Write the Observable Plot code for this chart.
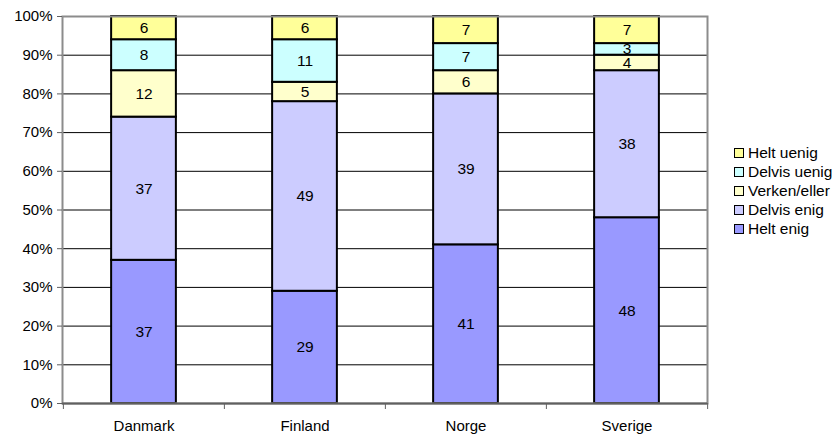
<!DOCTYPE html>
<html>
<head>
<meta charset="utf-8">
<script src="https://cdn.jsdelivr.net/npm/d3@7"></script>
<script src="https://cdn.jsdelivr.net/npm/@observablehq/plot@0.6"></script>
<style>
  body { margin: 0; background: #fff; }
  #wrap { position: relative; width: 839px; height: 434px; font-family: "Liberation Sans", Arial, sans-serif; }
  #legend { position: absolute; left: 734px; top: 143px; font-size: 15.5px; color: #000; }
  .item { display: flex; align-items: center; height: 19px; white-space: nowrap; }
  .sw { width: 8px; height: 8px; border: 1.5px solid #000; margin-right: 4px; }
</style>
</head>
<body>
<div id="wrap"></div>
<script>
// Survey answers per country, in percent
const countries = ["Danmark", "Finland", "Norge", "Sverige"];
const answers = ["Helt enig", "Delvis enig", "Verken/eller", "Delvis uenig", "Helt uenig"];
const heltEnig    = [37, 29, 41, 48];
const delvisEnig  = [37, 49, 39, 38];
const verkenEller = [12, 5, 6, 4];
const delvisUenig = [8, 11, 7, 3];
const heltUenig   = [6, 6, 7, 7];
const colors = ["#9999FF", "#CCCCFF", "#FFFFCC", "#CCFFFF", "#FFFF99"];
const yTicks = [0, 10, 20, 30, 40, 50, 60, 70, 80, 90, 100];

const series = [heltEnig, delvisEnig, verkenEller, delvisUenig, heltUenig];
const rows = [];
answers.forEach((a, j) => countries.forEach((c, i) => rows.push({country: c, answer: a, value: series[j][i]})));

const W = 839, H = 434, mL = 62, mR = 132, mT = 16, mB = 31;
const half = (W - mL - mR) / countries.length / 2;
const barInset = half - 32.5;

const chart = Plot.plot({
  width: W, height: H,
  marginLeft: mL, marginRight: mR, marginTop: mT, marginBottom: mB,
  style: {fontFamily: "'Liberation Sans', Arial, sans-serif", fontSize: "15px", background: "#fff", color: "#000"},
  x: {domain: countries, padding: 0, label: null},
  y: {domain: [0, 100], label: null},
  color: {domain: answers, range: colors},
  marks: [
    Plot.gridY(yTicks.filter(t => t > 0 && t < 100), {stroke: "#000", strokeOpacity: 1, strokeWidth: 1}),
    Plot.barY(rows, Plot.stackY({
      x: "country", y: "value", z: "answer", fill: "answer",
      stroke: "#000", strokeWidth: 2, insetLeft: barInset, insetRight: barInset
    })),
    Plot.text(rows, Plot.stackY({
      x: "country", y: "value", z: "answer", text: "value", fill: "#000", fontSize: 15.5
    })),
    Plot.frame({stroke: "#8c8c8c", strokeWidth: 2}),
    Plot.ruleY([0], {stroke: "#606060", strokeWidth: 2}),
    Plot.axisY({ticks: yTicks, tickFormat: d => d + "%", tickSize: 5, tickPadding: 5, stroke: "#606060", fontSize: 15, label: null}),
    Plot.axisX({tickSize: 0, tickPadding: 17, fontSize: 15, label: null}),
    Plot.axisX({tickSize: 6, tickFormat: () => "", dx: -half, stroke: "#606060", label: null}),
    Plot.axisX({ticks: [countries[countries.length - 1]], tickSize: 6, tickFormat: () => "", dx: half, stroke: "#606060", label: null})
  ]
});

const wrap = document.getElementById("wrap");
wrap.appendChild(chart);

// Legend, top entry first
const legend = document.createElement("div");
legend.id = "legend";
answers.slice().reverse().forEach(a => {
  const item = document.createElement("div");
  item.className = "item";
  const sw = document.createElement("span");
  sw.className = "sw";
  sw.style.background = colors[answers.indexOf(a)];
  item.appendChild(sw);
  item.appendChild(document.createTextNode(a));
  legend.appendChild(item);
});
wrap.appendChild(legend);
</script>
</body>
</html>
